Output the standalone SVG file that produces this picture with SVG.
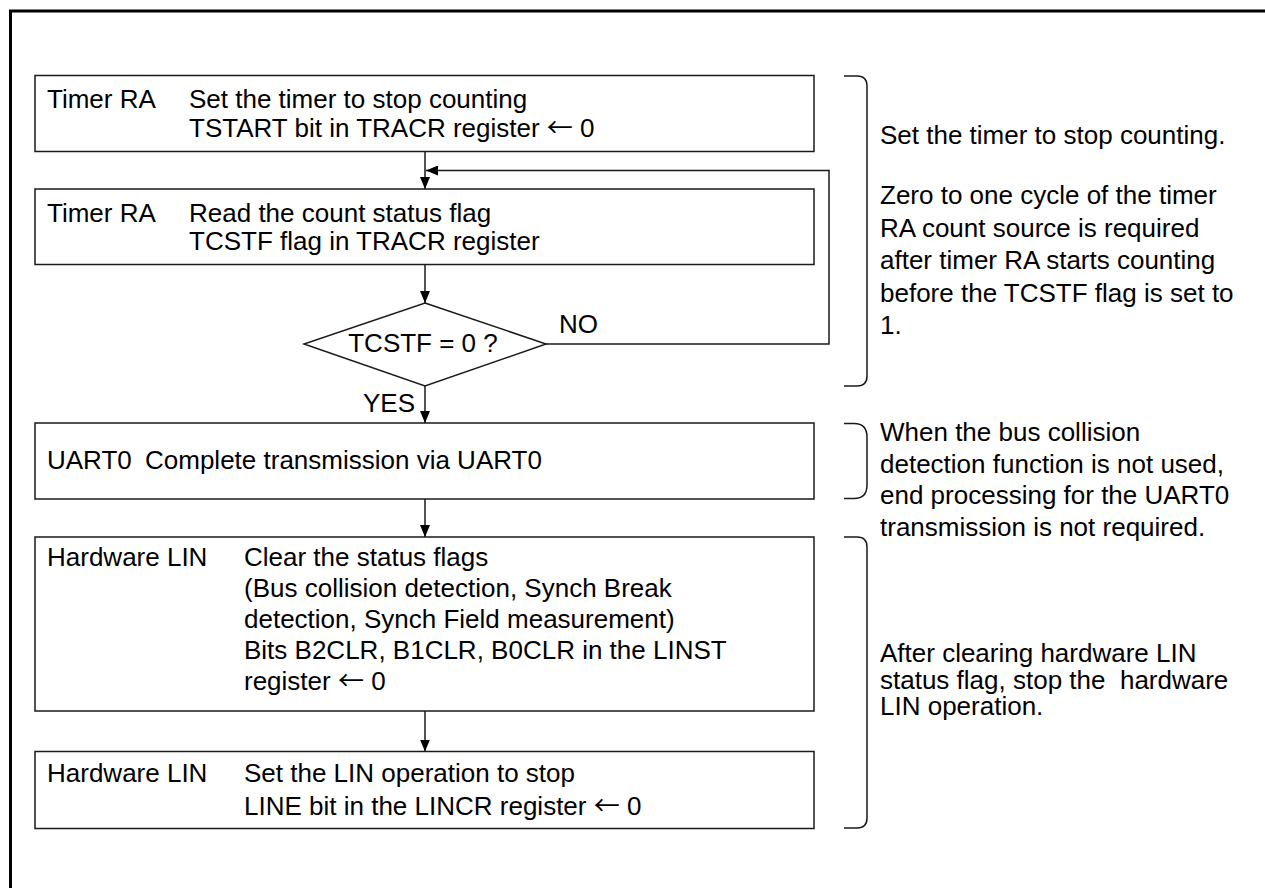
<svg xmlns="http://www.w3.org/2000/svg" width="1265" height="888" viewBox="0 0 1265 888">
<style>
  text { font-family: "Liberation Sans", Arial, Helvetica, sans-serif; font-size: 26px; fill: #000; }
  .ar { font-family: "Noto Sans CJK JP", "DejaVu Sans", sans-serif; }
  .pre { white-space: pre; }
  .box { fill: #fff; stroke: #1a1a1a; stroke-width: 1.5; }
  .line { fill: none; stroke: #1a1a1a; stroke-width: 1.5; }
  .brace { fill: none; stroke: #1a1a1a; stroke-width: 1.5; }
</style>
<defs>
  <marker id="arr" viewBox="0 0 12 10" refX="12" refY="5" markerWidth="12" markerHeight="10" markerUnits="userSpaceOnUse" orient="auto">
    <path d="M0,0 L12,5 L0,10 Z" fill="#000"/>
  </marker>
</defs>
<rect x="0" y="0" width="1265" height="888" fill="#fff"/>
<path d="M10.5,888 V11 H1265" fill="none" stroke="#000" stroke-width="3"/>

<g id="connectors">
  <line class="line" x1="425" y1="151.5" x2="425" y2="189" marker-end="url(#arr)"/>
  <line class="line" x1="425" y1="264.5" x2="425" y2="303" marker-end="url(#arr)"/>
  <path class="line" d="M546,344 H829 V170.5 H426" marker-end="url(#arr)"/>
  <line class="line" x1="425" y1="386" x2="425" y2="423" marker-end="url(#arr)"/>
  <line class="line" x1="425" y1="499" x2="425" y2="537" marker-end="url(#arr)"/>
  <line class="line" x1="425" y1="711" x2="425" y2="751.5" marker-end="url(#arr)"/>
  <text x="559" y="333">NO</text>
  <text x="363" y="411.5">YES</text>
</g>

<g id="box1">
  <rect class="box" x="35" y="75.5" width="779" height="76"/>
  <text x="47" y="108">Timer RA</text>
  <text x="189" y="108">Set the timer to stop counting</text>
  <text x="189" y="136.5">TSTART bit in TRACR register <tspan class="ar">←</tspan> 0</text>
</g>

<g id="box2">
  <rect class="box" x="35" y="189" width="779" height="75.5"/>
  <text x="47" y="222">Timer RA</text>
  <text x="189" y="222">Read the count status flag</text>
  <text x="189" y="250">TCSTF flag in TRACR register</text>
</g>

<g id="decision">
  <polygon class="box" points="425,303 546,344 425,386 304,344"/>
  <text x="423" y="351.5" text-anchor="middle">TCSTF = 0 ?</text>
</g>

<g id="box3">
  <rect class="box" x="35" y="423" width="779" height="76"/>
  <text x="47" y="469">UART0</text>
  <text x="145" y="469">Complete transmission via UART0</text>
</g>

<g id="box4">
  <rect class="box" x="35" y="537" width="779" height="174"/>
  <text x="47" y="566">Hardware LIN</text>
  <text x="244" y="566">Clear the status flags</text>
  <text x="244" y="597">(Bus collision detection, Synch Break</text>
  <text x="244" y="628">detection, Synch Field measurement)</text>
  <text x="244" y="659">Bits B2CLR, B1CLR, B0CLR in the LINST</text>
  <text x="244" y="690">register <tspan class="ar">←</tspan> 0</text>
</g>

<g id="box5">
  <rect class="box" x="35" y="751.5" width="779" height="77"/>
  <text x="47" y="781.7">Hardware LIN</text>
  <text x="244" y="781.7">Set the LIN operation to stop</text>
  <text x="244" y="815">LINE bit in the LINCR register <tspan class="ar">←</tspan> 0</text>
</g>

<g id="note1">
  <path class="brace" d="M844,76 H857 Q867,76 867,86 V376 Q867,386 857,386 H844"/>
  <text x="880" y="143.5">Set the timer to stop counting.</text>
  <text x="880" y="204">Zero to one cycle of the timer</text>
  <text x="880" y="236.5">RA count source is required</text>
  <text x="880" y="269">after timer RA starts counting</text>
  <text x="880" y="301.5">before the TCSTF flag is set to</text>
  <text x="880" y="333.5">1.</text>
</g>

<g id="note2">
  <path class="brace" d="M844,423.5 H854 Q867,423.5 867,437 V485 Q867,498.5 854,498.5 H844"/>
  <text x="880" y="441">When the bus collision</text>
  <text x="880" y="472.7">detection function is not used,</text>
  <text x="880" y="504.3">end processing for the UART0</text>
  <text x="880" y="536">transmission is not required.</text>
</g>

<g id="note3">
  <path class="brace" d="M844,537 H857 Q867,537 867,547 V818 Q867,828 857,828 H844"/>
  <text x="880" y="662">After clearing hardware LIN</text>
  <text class="pre" x="880" y="688.5">status flag, stop the  hardware</text>
  <text x="880" y="715">LIN operation.</text>
</g>
</svg>
